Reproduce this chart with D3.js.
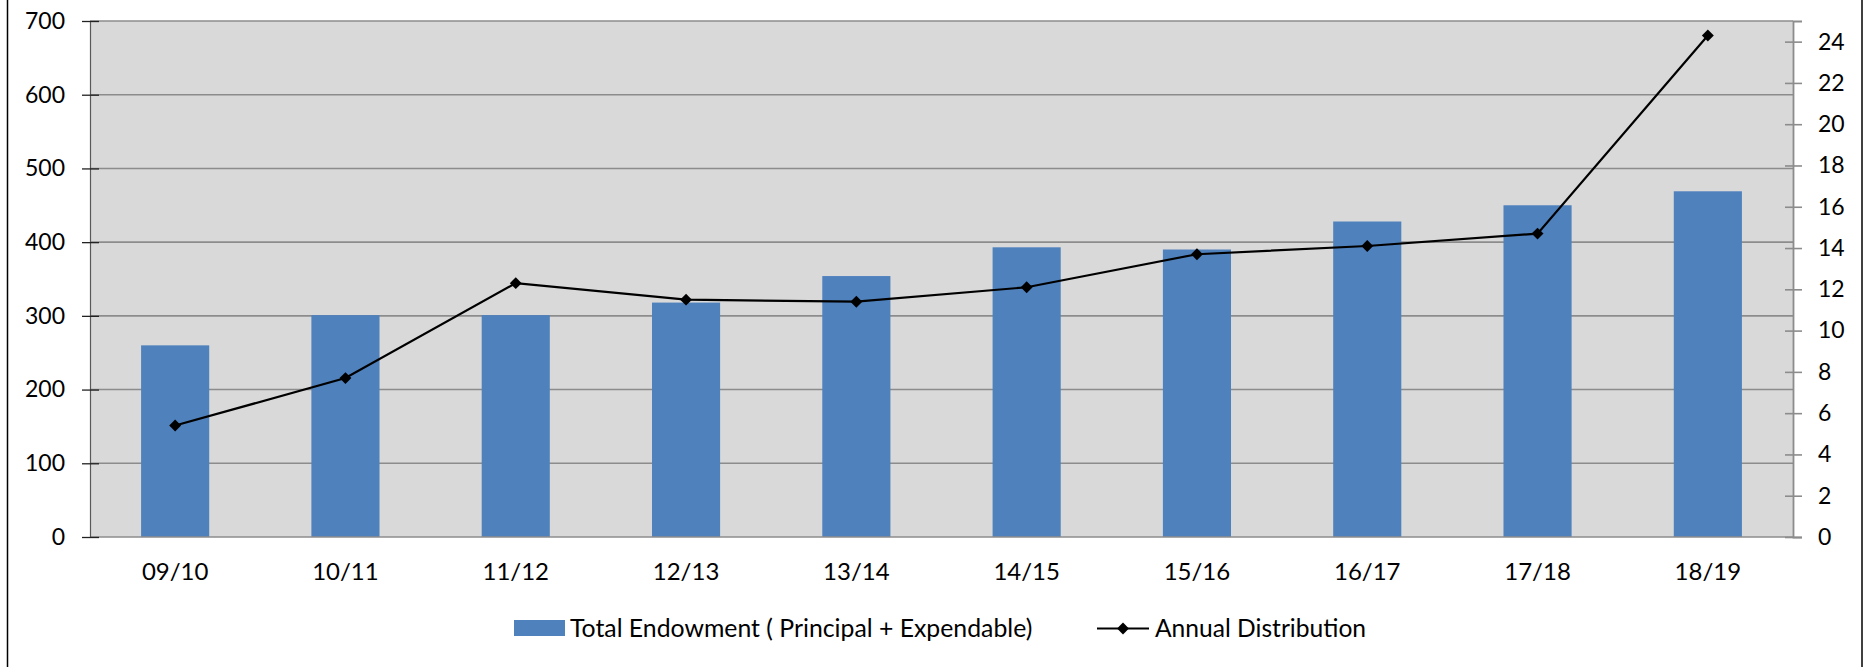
<!DOCTYPE html>
<html>
<head>
<meta charset="utf-8">
<script src="https://cdn.jsdelivr.net/npm/d3@7"></script>
<style>
  html, body { margin: 0; padding: 0; background: #fff; }
  svg { display: block; font-family: Lato, "Open Sans", sans-serif; }
</style>
</head>
<body>
<svg id="chart" width="1869" height="667"></svg>
<script>
const categories = ["09/10","10/11","11/12","12/13","13/14","14/15","15/16","16/17","17/18","18/19"];
const endowment = [260, 301, 301, 318, 354, 393, 390, 428, 450, 469];
const distribution = [5.4, 7.7, 12.3, 11.5, 11.4, 12.1, 13.7, 14.1, 14.7, 24.3];
const leftTicks = [0, 100, 200, 300, 400, 500, 600, 700];
const rightTicks = [0, 2, 4, 6, 8, 10, 12, 14, 16, 18, 20, 22, 24];
const seriesNames = ["Total Endowment ( Principal + Expendable)", "Annual Distribution"];

const svg = d3.select("#chart");
const L = 90, R = 1793, T = 21, B = 537;

// outer frame (vertical edges only visible)
svg.append("line").attr("x1", 7.5).attr("x2", 7.5).attr("y1", 0).attr("y2", 667)
  .attr("stroke", "#000").attr("stroke-width", 1.5);
svg.append("line").attr("x1", 1862).attr("x2", 1862).attr("y1", 0).attr("y2", 667)
  .attr("stroke", "#000").attr("stroke-width", 1.5);

const x = d3.scaleBand().domain(categories).range([L, R]).paddingInner(0.6).paddingOuter(0.3);
const yL = d3.scaleLinear().domain([0, 700]).range([B, T]);
const yR = d3.scaleLinear().domain([0, 25]).range([B, T]);

svg.append("rect").attr("x", L).attr("y", T).attr("width", R - L).attr("height", B - T)
  .attr("fill", "#d9d9d9");

// gridlines
svg.append("g").selectAll("line").data(leftTicks.filter(d => d > 0)).join("line")
  .attr("x1", L).attr("x2", R).attr("y1", d => yL(d)).attr("y2", d => yL(d))
  .attr("stroke", "#8c8c8c").attr("stroke-width", 1.6);

// bars
svg.append("g").selectAll("rect").data(endowment).join("rect")
  .attr("x", (d, i) => x(categories[i]))
  .attr("width", x.bandwidth())
  .attr("y", d => yL(d))
  .attr("height", d => yL(0) - yL(d))
  .attr("fill", "#4f81bd");

// x baseline
svg.append("line").attr("x1", L).attr("x2", R).attr("y1", B).attr("y2", B)
  .attr("stroke", "#8c8c8c").attr("stroke-width", 1.6);

// left axis
const gl = svg.append("g").attr("transform", `translate(${L},0)`)
  .call(d3.axisLeft(yL).tickValues(leftTicks).tickSize(8).tickPadding(17));
gl.select(".domain").attr("stroke", "#595959").attr("stroke-width", 1.2);
gl.selectAll(".tick line").attr("x1", 9).attr("stroke", "#222").attr("stroke-width", 1.3);
gl.selectAll(".tick text").attr("font-size", 23).attr("fill", "#000").attr("font-family", "Lato, sans-serif");

// right axis
const gr = svg.append("g").attr("transform", `translate(${R},0)`)
  .call(d3.axisRight(yR).tickValues(rightTicks).tickSize(9).tickPadding(16));
gr.select(".domain").attr("stroke", "#8c8c8c").attr("stroke-width", 1.8);
gr.selectAll(".tick line").attr("x1", -8).attr("stroke", "#8c8c8c").attr("stroke-width", 1.6);
gr.selectAll(".tick text").attr("font-size", 23).attr("fill", "#000").attr("font-family", "Lato, sans-serif");

// bottom axis labels
const gb = svg.append("g").attr("transform", `translate(0,${B})`)
  .call(d3.axisBottom(x).tickSize(0).tickPadding(26));
gb.select(".domain").remove();
gb.selectAll(".tick text").attr("font-size", 24).attr("fill", "#000").attr("font-family", "Lato, sans-serif");

// line series
const cx = (i) => x(categories[i]) + x.bandwidth() / 2;
const line = d3.line().x((d, i) => cx(i)).y(d => yR(d));
svg.append("path").datum(distribution).attr("d", line)
  .attr("fill", "none").attr("stroke", "#000").attr("stroke-width", 2.2);
const diamond = d3.symbol().type(d3.symbolDiamond2).size(90);
svg.append("g").selectAll("path").data(distribution).join("path")
  .attr("d", diamond)
  .attr("transform", (d, i) => `translate(${cx(i)},${yR(d)})`)
  .attr("fill", "#000");

// legend
const lg = svg.append("g");
lg.append("rect").attr("x", 514).attr("y", 620).attr("width", 51).attr("height", 16).attr("fill", "#4f81bd");
lg.append("text").attr("x", 570).attr("y", 628).attr("dy", "0.35em")
  .attr("font-size", 24.8).text(seriesNames[0]);
lg.append("line").attr("x1", 1097).attr("x2", 1149).attr("y1", 628.5).attr("y2", 628.5)
  .attr("stroke", "#000").attr("stroke-width", 2);
lg.append("path").attr("d", diamond).attr("transform", "translate(1123,628.5)").attr("fill", "#000");
lg.append("text").attr("x", 1155).attr("y", 628).attr("dy", "0.35em")
  .attr("font-size", 24.6).text(seriesNames[1]);
</script>
</body>
</html>
